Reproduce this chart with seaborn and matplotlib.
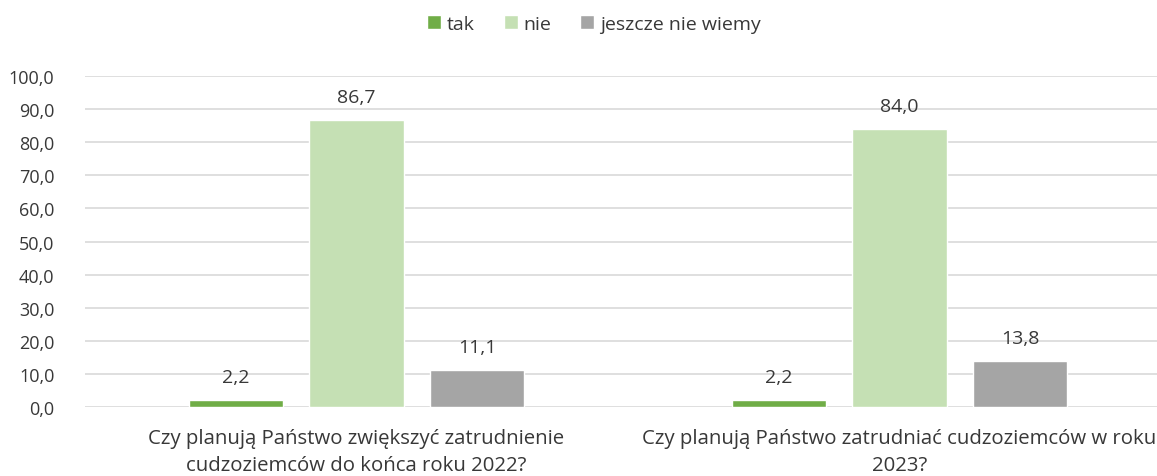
import matplotlib
matplotlib.use("Agg")
import matplotlib.pyplot as plt
import seaborn as sns
import pandas as pd
from matplotlib.patches import Patch
from matplotlib.ticker import FuncFormatter

categories = ["Czy planują Państwo zwiększyć zatrudnienie\ncudzoziemców do końca roku 2022?",
              "Czy planują Państwo zatrudniać cudzoziemców w roku\n2023?"]
series = ["tak", "nie", "jeszcze nie wiemy"]
tak = [2.2, 2.2]
nie = [86.7, 84.0]
niewiemy = [11.1, 13.8]
colors = ["#70AD47", "#C5E0B4", "#A5A5A5"]

rows = []
for i, c in enumerate(categories):
    for s, vals in zip(series, [tak, nie, niewiemy]):
        rows.append({"cat": c, "series": s, "val": vals[i]})
df = pd.DataFrame(rows)

sns.set_theme(style="white")
plt.rcParams['font.family'] = ['Open Sans', 'DejaVu Sans']
txt = "#383838"

fig = plt.figure(figsize=(11.57, 4.77), dpi=100)
ax = fig.add_axes([85/1157, 69/477, 1086/1157, 331/477])
sns.barplot(data=df, x="cat", y="val", hue="series", hue_order=series,
            palette=colors, width=0.666, gap=0.22, ax=ax, legend=False,
            saturation=1, errorbar=None)

ax.set_ylim(0, 100)
ax.set_yticks(range(0, 101, 10))
ax.yaxis.set_major_formatter(FuncFormatter(lambda v, p: f"{v:.1f}".replace(".", ",")))
ax.grid(axis="y", color="#D9D9D9", linewidth=1.2)
ax.set_axisbelow(True)
for sp in ax.spines.values():
    sp.set_visible(False)
ax.set_xlabel("")
ax.set_ylabel("")
ax.tick_params(axis="y", length=0, pad=22, labelsize=13, labelcolor=txt)
ax.tick_params(axis="x", length=0, pad=15, labelsize=14.7, labelcolor=txt)
for lbl in ax.get_xticklabels():
    lbl.set_linespacing(1.5)
ax.set_xlim(-0.5, 1.5)

for cont in ax.containers:
    ax.bar_label(cont, labels=[f"{v:.1f}".replace(".", ",") for v in cont.datavalues],
                 padding=10, fontsize=14, color=txt)

handles = [Patch(facecolor=c, label=s) for c, s in zip(colors, series)]
fig.legend(handles=handles, loc="center", bbox_to_anchor=(594/1157, 1 - 25/477), ncol=3,
           frameon=False, fontsize=14, handlelength=0.7, handleheight=0.7,
           handletextpad=0.3, columnspacing=1.5, labelcolor=txt)

fig.savefig("out.png", dpi=100)
